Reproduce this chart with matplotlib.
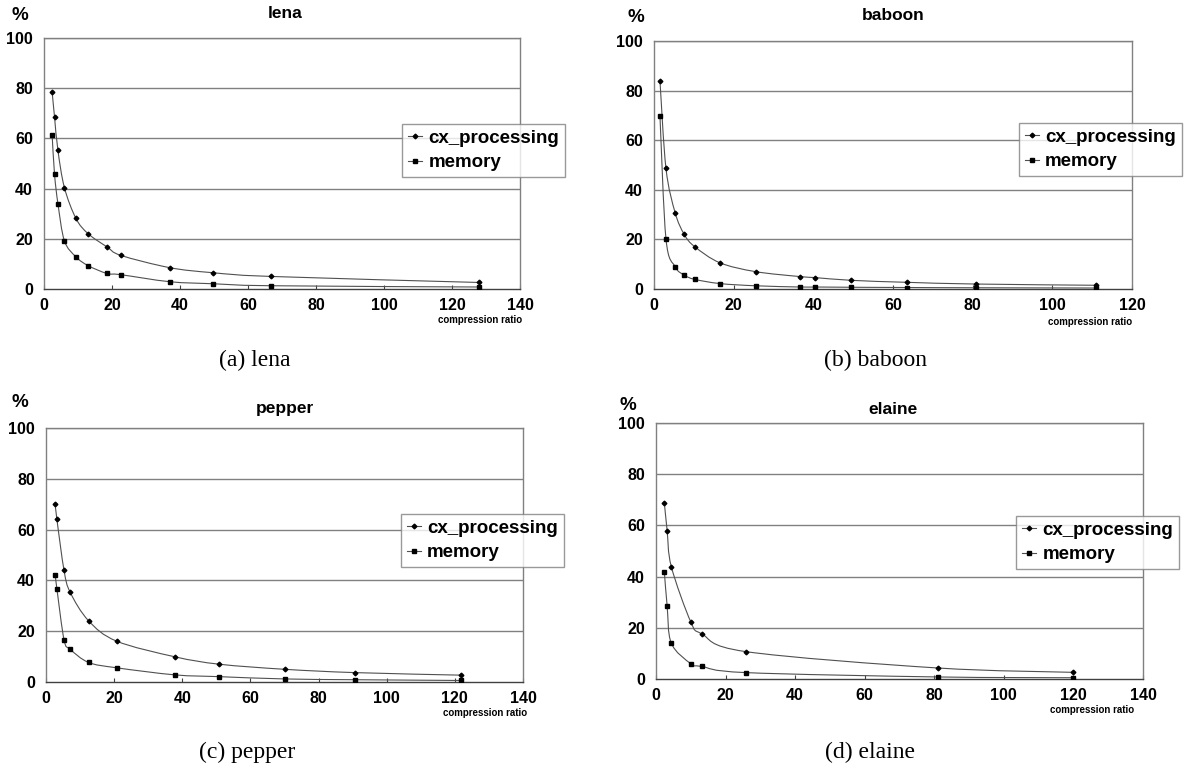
import numpy as np
import matplotlib
matplotlib.use("Agg")
import matplotlib.pyplot as plt
from matplotlib.path import Path
from matplotlib.patches import PathPatch
from matplotlib.lines import Line2D

# ---------------- data ----------------
lena_x = [2.4, 3.1, 4.1, 6.0, 9.4, 13.0, 18.5, 22.6, 37.0, 49.6, 66.8, 128.0]
lena_cx = [78.4, 68.5, 55.2, 40.4, 28.1, 22.0, 16.8, 13.4, 8.5, 6.5, 5.0, 2.6]
lena_mem = [61.2, 45.7, 34.0, 19.2, 12.8, 9.3, 6.2, 5.7, 2.9, 2.1, 1.3, 0.8]

baboon_x = [1.5, 3.0, 5.3, 7.6, 10.2, 16.5, 25.5, 36.7, 40.5, 49.5, 63.4, 80.8, 111.0]
baboon_cx = [83.9, 48.7, 30.8, 22.0, 17.1, 10.6, 7.0, 5.0, 4.6, 3.5, 2.7, 2.0, 1.5]
baboon_mem = [69.6, 20.3, 9.0, 5.6, 3.9, 2.2, 1.3, 0.8, 0.8, 0.7, 0.6, 0.5, 0.4]

pepper_x = [2.7, 3.2, 5.3, 7.1, 12.5, 20.7, 37.9, 50.9, 70.1, 90.6, 121.7]
pepper_cx = [70.1, 64.0, 43.9, 35.3, 24.1, 16.1, 9.9, 7.0, 5.0, 3.7, 2.7]
pepper_mem = [42.1, 36.7, 16.6, 12.9, 7.7, 5.6, 2.8, 2.1, 1.2, 0.9, 0.6]

elaine_x = [2.4, 3.2, 4.4, 10.0, 13.2, 25.8, 81.0, 120.0]
elaine_cx = [68.8, 58.0, 43.9, 22.3, 17.6, 10.7, 4.3, 2.6]
elaine_mem = [41.8, 28.6, 14.0, 6.0, 4.9, 2.5, 0.8, 0.5]

titles = ["lena", "baboon", "pepper", "elaine"]
captions = ["(a) lena", "(b) baboon", "(c) pepper", "(d) elaine"]
series_names = ["cx_processing", "memory"]
y_ticks = [0, 20, 40, 60, 80, 100]
x_maxes = [140, 120, 140, 140]

datasets = [
    (lena_x, lena_cx, lena_mem),
    (baboon_x, baboon_cx, baboon_mem),
    (pepper_x, pepper_cx, pepper_mem),
    (elaine_x, elaine_cx, elaine_mem),
]

# ---------------- layout (pixels) ----------------
W, H = 1194, 773
axes_px = [  # left, right, top, bottom
    (44, 520, 38, 289),
    (654, 1132, 41, 289),
    (46, 523, 428, 682),
    (656, 1143, 423, 679),
]
legend_px = [  # left, top
    (402, 124),
    (1019, 123),
    (401, 514),
    (1016, 516),
]
pct_px = [(20, 15), (636, 17), (20, 403), (628, 405)]
title_px = [(285, 13), (893, 15), (285, 408), (893, 410)]
cr_px = [(480, 320), (1090, 322), (485, 713), (1092, 710)]
cap_px = [(255, 360), (875, 360), (247, 752), (870, 752)]

GRAY = "#808080"
LINEC = "#505050"
FONT = "Liberation Sans"

fig = plt.figure(figsize=(W / 100, H / 100), dpi=100)


def smooth_path(x, y):
    pts = np.column_stack([x, y]).astype(float)
    n = len(pts)
    verts = [pts[0]]
    codes = [Path.MOVETO]
    for i in range(n - 1):
        p0 = pts[i - 1] if i > 0 else pts[i]
        p1 = pts[i]
        p2 = pts[i + 1]
        p3 = pts[i + 2] if i + 2 < n else pts[i + 1]
        c1 = p1 + (p2 - p0) / 6.0
        c2 = p2 - (p3 - p1) / 6.0
        verts += [c1, c2, p2]
        codes += [Path.CURVE4] * 3
    return Path(verts, codes)


def fx(px):
    return px / W


def fy(py):
    return 1 - py / H


for k in range(4):
    l, r, t, b = axes_px[k]
    ax = fig.add_axes([fx(l), fy(b), (r - l) / W, (b - t) / H])
    xs, cx, mem = datasets[k]
    ax.set_xlim(0, x_maxes[k])
    ax.set_ylim(0, 100)
    for yv in y_ticks[1:]:
        ax.axhline(yv, color=GRAY, lw=1.0, zorder=0)
    for spine in ax.spines.values():
        spine.set_color(GRAY)
        spine.set_linewidth(1.0)
    ax.spines["bottom"].set_color("#404040")

    # smoothed lines
    for ys in (cx, mem):
        ax.add_patch(PathPatch(smooth_path(xs, ys), facecolor="none",
                               edgecolor=LINEC, lw=0.8, zorder=2))
    ax.plot(xs, cx, linestyle="none", marker="D", markersize=2.4,
            color="black", zorder=3)
    ax.plot(xs, mem, linestyle="none", marker="s", markersize=3.3,
            color="black", zorder=3)

    ax.set_yticks(y_ticks)
    ax.set_xticks(np.arange(0, x_maxes[k] + 1, 20))
    ax.tick_params(axis="y", length=0, pad=8, labelsize=11.5)
    ax.tick_params(axis="x", direction="in", length=3, color="#404040",
                   pad=6.5, labelsize=11.5)
    for lab in ax.get_xticklabels() + ax.get_yticklabels():
        lab.set_fontweight("bold")
        lab.set_fontfamily(FONT)

    handles = [
        Line2D([], [], color=LINEC, lw=0.8, marker="D", markersize=2.4,
               markerfacecolor="black", markeredgecolor="black"),
        Line2D([], [], color=LINEC, lw=0.8, marker="s", markersize=3.3,
               markerfacecolor="black", markeredgecolor="black"),
    ]
    lx, ly = legend_px[k]
    leg = ax.legend(handles, series_names, loc="upper left",
                    bbox_to_anchor=(fx(lx), fy(ly)),
                    bbox_transform=fig.transFigure,
                    prop={"family": FONT, "weight": "bold", "size": 13.5},
                    frameon=True, fancybox=False, shadow=False,
                    borderpad=0.3, labelspacing=0.4, handlelength=0.75,
                    handletextpad=0.35, borderaxespad=0)
    leg.get_frame().set_edgecolor(GRAY)
    leg.get_frame().set_linewidth(1.0)

    px_, py_ = pct_px[k]
    fig.text(fx(px_), fy(py_), "%", ha="center", va="center",
             fontfamily=FONT, fontweight="bold", fontsize=13.5)
    tx, ty = title_px[k]
    fig.text(fx(tx), fy(ty), titles[k], ha="center", va="center",
             fontfamily=FONT, fontweight="bold", fontsize=12.5)
    crx, cry = cr_px[k]
    fig.text(fx(crx), fy(cry), "compression ratio", ha="center", va="center",
             fontfamily=FONT, fontweight="bold", fontsize=7)
    cpx, cpy = cap_px[k]
    fig.text(fx(cpx), fy(cpy), captions[k], ha="center", va="center",
             fontfamily="Liberation Serif", fontsize=17)

fig.savefig("out.png", dpi=100)
